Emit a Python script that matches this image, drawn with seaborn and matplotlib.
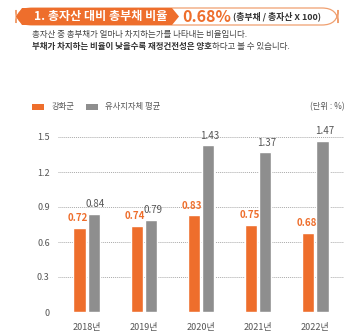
import matplotlib
matplotlib.use("Agg")
import matplotlib.pyplot as plt
import seaborn as sns
import pandas as pd
from matplotlib.patches import Polygon, FancyBboxPatch, Rectangle

years = ["2018년", "2019년", "2020년", "2021년", "2022년"]
series_names = ["강화군", "유사지자체 평균"]
ganghwa = [0.72, 0.74, 0.83, 0.75, 0.68]
similar_avg = [0.84, 0.79, 1.43, 1.37, 1.47]
yticks = [0, 0.3, 0.6, 0.9, 1.2, 1.5]
ytick_labels = ["0", "0.3", "0.6", "0.9", "1.2", "1.5"]

sns.set_theme(style="white")
plt.rcParams['font.family'] = ['Noto Sans CJK KR', 'DejaVu Sans']

ORANGE = "#EE6E2C"
GRAY = "#8E8E8E"

df = pd.DataFrame({
    "year": years * 2,
    "series": [series_names[0]] * len(years) + [series_names[1]] * len(years),
    "value": ganghwa + similar_avg,
})

W, H = 356, 334
fig = plt.figure(figsize=(W / 100, H / 100), dpi=100)
ax = fig.add_axes([58 / W, 1 - 312 / H, 286 / W, 1.6 * (175 / 1.5) / H])

sns.barplot(data=df, x="year", y="value", hue="series", order=years,
            hue_order=series_names, palette=[ORANGE, GRAY], width=0.5,
            gap=0.15, saturation=1, legend=False, ax=ax)

ax.set_ylim(0, 1.6)
ax.set_xlim(-0.5, 4.5)
ax.set_yticks(yticks)
ax.set_yticklabels(ytick_labels)
ax.set_xlabel("")
ax.set_ylabel("")
for s in ax.spines.values():
    s.set_visible(False)
ax.tick_params(axis="y", length=0, labelsize=6.5, colors="#555555", pad=6)
ax.tick_params(axis="x", length=0, labelsize=6.5, colors="#555555", pad=8)
ax.yaxis.grid(True, linestyle=(0, (1, 1)), color="#AAAAAA", linewidth=0.7)
ax.set_axisbelow(True)

cols = [ORANGE, "#555555"]
for i, cont in enumerate(ax.containers):
    for bar, v in zip(cont, [ganghwa, similar_avg][i]):
        ax.text(bar.get_x() + bar.get_width() / 2 - (0.03 if i == 0 else -0.03),
                bar.get_height() + 0.04, f"{v:.2f}", ha="center", va="bottom",
                fontsize=7, color=cols[i], fontweight="bold" if i == 0 else "normal")

# Header
def fx(x):
    return x / W

def fy(y):
    return 1 - y / H

outline = FancyBboxPatch((fx(16), fy(25)), fx(338) - fx(16), fy(8) - fy(25),
                         boxstyle="round,pad=0,rounding_size=0.045",
                         transform=fig.transFigure, facecolor="white",
                         edgecolor="#F0A070", linewidth=0.9,
                         mutation_aspect=1.0)
fig.patches.append(outline)
pill = Polygon([(fx(22), fy(8)), (fx(172), fy(8)), (fx(179), fy(16.5)),
                (fx(172), fy(25)), (fx(22), fy(25)), (fx(16), fy(16.5))],
               closed=True, transform=fig.transFigure, facecolor=ORANGE,
               edgecolor="none")
fig.patches.append(pill)
fig.text(fx(34), fy(16.5), "1. 총자산 대비 총부채 비율", color="white",
         fontsize=8.7, fontweight="bold", va="center", ha="left")
fig.text(fx(182), fy(16.5), "0.68%", color=ORANGE, fontsize=11.5,
         fontweight="bold", va="center", ha="left")
fig.text(fx(233), fy(16.5), "(총부채 / 총자산 X 100)", color="#333333",
         fontsize=6.4, fontweight="bold", va="center", ha="left")

fig.text(fx(32), fy(35), "총자산 중 총부채가 얼마나 차지하는가를 나타내는 비율입니다.",
         color="#444444", fontsize=6.1, va="center", ha="left")
t1 = fig.text(fx(32), fy(47), "부채가 차지하는 비율이 낮을수록 재정건전성은 양호",
              color="#333333", fontsize=6.1, fontweight="bold", va="center", ha="left")
fig.canvas.draw()
bb = t1.get_window_extent()
fig.text(bb.x1 / W, fy(47), "하다고 볼 수 있습니다.", color="#444444",
         fontsize=6.1, va="center", ha="left")

# Legend
fig.patches.append(Rectangle((fx(32), fy(110)), fx(12), fy(104) - fy(110),
                             transform=fig.transFigure, facecolor=ORANGE, edgecolor="none"))
fig.text(fx(52), fy(107), series_names[0], fontsize=6, color="#555555", va="center")
fig.patches.append(Rectangle((fx(86), fy(110)), fx(12), fy(104) - fy(110),
                             transform=fig.transFigure, facecolor=GRAY, edgecolor="none"))
fig.text(fx(105), fy(107), series_names[1], fontsize=6, color="#555555", va="center")
fig.text(fx(345), fy(107), "(단위 : %)", fontsize=6, color="#555555", va="center", ha="right")

fig.savefig("out.png", dpi=100)
